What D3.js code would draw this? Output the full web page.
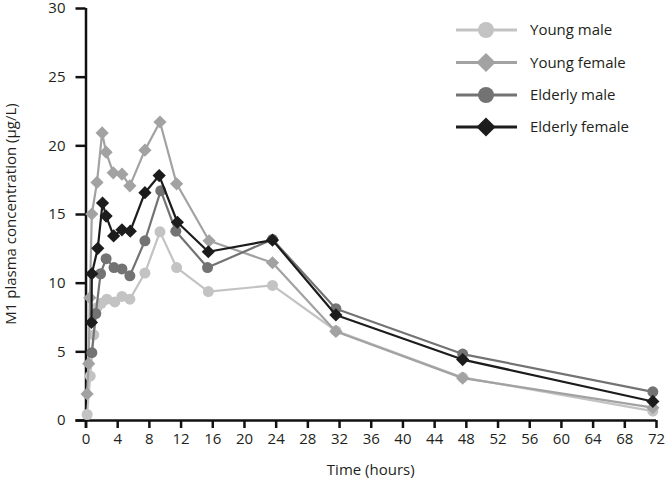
<!DOCTYPE html>
<html>
<head>
<meta charset="utf-8">
<script src="https://cdn.jsdelivr.net/npm/d3@7"></script>
<style>
  html, body { margin: 0; padding: 0; background: #fff; }
  svg text { font-family: "Open Sans", "Noto Sans", sans-serif; fill: #231f20; }
</style>
</head>
<body>
<svg id="chart" width="666" height="489"></svg>
<script>
// ---- data ----
const seriesNames = ["Young male", "Young female", "Elderly male", "Elderly female"];
const seriesColors = ["#c3c3c3", "#a2a2a2", "#737373", "#1c1c1c"];
const seriesShapes = ["circle", "diamond", "circle", "diamond"];

const youngMaleTime = [0.2, 0.6, 1.05, 1.45, 2.0, 2.7, 3.7, 4.6, 5.6, 7.5, 9.4, 11.5, 15.5, 23.6, 31.6, 47.6, 71.6];
const youngMaleConc = [0.4, 3.2, 6.2, 8.2, 8.5, 8.8, 8.6, 9.0, 8.8, 10.7, 13.7, 11.1, 9.35, 9.8, 6.5, 3.1, 0.65];

const youngFemaleTime = [0.2, 0.4, 0.55, 0.8, 1.45, 2.1, 2.6, 3.5, 4.6, 5.6, 7.5, 9.4, 11.5, 15.6, 23.6, 31.6, 47.6, 71.6];
const youngFemaleConc = [1.9, 4.1, 8.9, 15.0, 17.3, 20.9, 19.5, 18.0, 17.9, 17.05, 19.65, 21.7, 17.2, 13.05, 11.45, 6.45, 3.05, 0.9];

const elderlyMaleTime = [0.8, 1.3, 1.9, 2.6, 3.6, 4.6, 5.6, 7.5, 9.5, 11.4, 15.4, 23.6, 31.6, 47.6, 71.6];
const elderlyMaleConc = [4.9, 7.75, 10.65, 11.75, 11.1, 11.0, 10.5, 13.05, 16.7, 13.75, 11.1, 13.15, 8.1, 4.8, 2.05];

const elderlyFemaleTime = [0.75, 0.8, 1.55, 2.15, 2.6, 3.55, 4.6, 5.65, 7.5, 9.3, 11.6, 15.5, 23.6, 31.6, 47.6, 71.6];
const elderlyFemaleConc = [7.1, 10.65, 12.5, 15.8, 14.85, 13.4, 13.85, 13.75, 16.55, 17.8, 14.4, 12.25, 13.1, 7.65, 4.4, 1.35];

const xTicks = d3.range(0, 73, 4);
const yTicks = [0, 5, 10, 15, 20, 25, 30];
const xTitle = "Time (hours)";
const yTitle = "M1 plasma concentration (µg/L)";

// ---- build series ----
const allTimes = [youngMaleTime, youngFemaleTime, elderlyMaleTime, elderlyFemaleTime];
const allConcs = [youngMaleConc, youngFemaleConc, elderlyMaleConc, elderlyFemaleConc];
const series = seriesNames.map((name, i) => ({
  name, color: seriesColors[i], shape: seriesShapes[i],
  points: allTimes[i].map((t, j) => ({ t, c: allConcs[i][j] }))
}));

// ---- layout ----
const svg = d3.select("#chart");
const mLeft = 85.5, mRight = 656, mTop = 8, mBottom = 420;
const x = d3.scaleLinear().domain([0, 72]).range([mLeft, mRight]);
const y = d3.scaleLinear().domain([0, 30]).range([mBottom, mTop]);

// axes
const xAxis = svg.append("g").attr("transform", `translate(0,${mBottom})`)
  .call(d3.axisBottom(x).tickValues(xTicks).tickSize(8).tickPadding(5).tickFormat(d3.format("d")));
const yAxis = svg.append("g").attr("transform", `translate(${mLeft},0)`)
  .call(d3.axisLeft(y).tickValues(yTicks).tickSize(10).tickPadding(10).tickFormat(d3.format("d")));
[xAxis, yAxis].forEach(g => {
  g.selectAll("path.domain").attr("stroke", "#111").attr("stroke-width", 2.5);
  g.selectAll(".tick line").attr("stroke", "#111").attr("stroke-width", 2.5);
  g.selectAll(".tick text").attr("font-size", 15).style("font-family", '"Open Sans", sans-serif').attr("fill", "#231f20");
});
xAxis.select("path.domain").attr("d", `M${mLeft - 10},0.5H${mRight}`);
yAxis.select("path.domain").attr("d", `M0.5,${mTop}V${mBottom + 8}`);

// titles
svg.append("text").attr("x", (mLeft + mRight) / 2).attr("y", 475)
  .attr("text-anchor", "middle").attr("font-size", 15).text(xTitle);
svg.append("text").attr("transform", `translate(16,${(mTop + mBottom) / 2}) rotate(-90)`)
  .attr("text-anchor", "middle").attr("font-size", 15).text(yTitle);

// marker helper
function marker(g, shape, color, size) {
  if (shape === "circle") {
    g.append("circle").attr("r", size).attr("fill", color);
  } else {
    const s = size * 1.2;
    g.append("path").attr("d", `M0,${-s}L${s},0L0,${s}L${-s},0Z`).attr("fill", color);
  }
}

// lines + markers
const line = d3.line().x(d => x(d.t)).y(d => y(d.c));
series.forEach(s => {
  const g = svg.append("g");
  g.append("path").datum(s.points).attr("d", line)
    .attr("fill", "none").attr("stroke", s.color).attr("stroke-width", 2.2).attr("stroke-linejoin", "round");
  s.points.forEach(p => {
    const m = g.append("g").attr("transform", `translate(${x(p.t)},${y(p.c)})`);
    marker(m, s.shape, s.color, 5.5);
  });
});

// legend
const legend = svg.append("g");
const rowY = [30, 62.5, 95, 127];
series.forEach((s, i) => {
  const r = legend.append("g").attr("transform", `translate(0,${rowY[i]})`);
  r.append("line").attr("x1", 456).attr("x2", 517).attr("y1", 0).attr("y2", 0)
    .attr("stroke", s.color).attr("stroke-width", 3);
  const m = r.append("g").attr("transform", "translate(486,0)");
  marker(m, s.shape, s.color, 8);
  r.append("text").attr("x", 530).attr("y", 0).attr("dy", "0.35em").attr("font-size", 15).text(s.name);
});
</script>
</body>
</html>
